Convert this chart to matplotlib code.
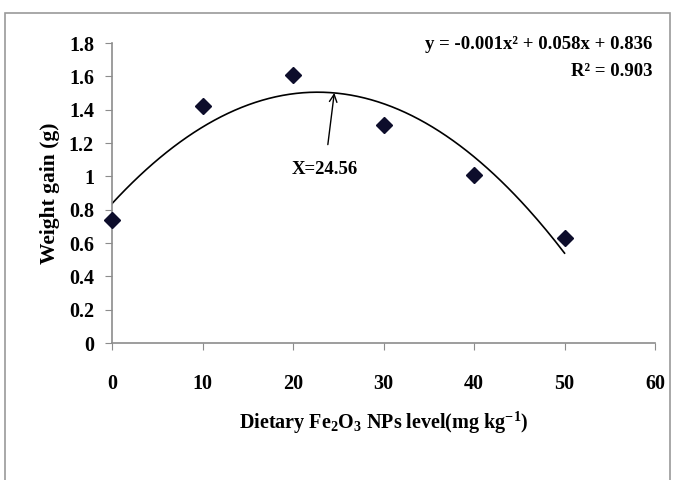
import numpy as np
import matplotlib.pyplot as plt
from matplotlib.patches import Rectangle

plt.rcParams['font.family'] = ['Liberation Serif', 'DejaVu Serif']
plt.rcParams['font.weight'] = 'bold'
plt.rcParams['mathtext.fontset'] = 'custom'
plt.rcParams['mathtext.rm'] = 'Liberation Serif:bold'
plt.rcParams['mathtext.it'] = 'Liberation Serif:bold'
plt.rcParams['mathtext.bf'] = 'Liberation Serif:bold'

# data
fe_level = [0, 10, 20, 30, 40, 50]
weight_gain = [0.74, 1.42, 1.61, 1.31, 1.01, 0.63]
x_ticks = [0, 10, 20, 30, 40, 50, 60]
y_ticks = [0, 0.2, 0.4, 0.6, 0.8, 1, 1.2, 1.4, 1.6, 1.8]
y_tick_labels = ['0', '0.2', '0.4', '0.6', '0.8', '1', '1.2', '1.4', '1.6', '1.8']
equation = 'y = -0.001x² + 0.058x + 0.836'
r_squared = 'R² = 0.903'
optimum_label = 'X=24.56'
optimum_x = 24.56

fig = plt.figure(figsize=(6.76, 4.8), dpi=100)
ax = fig.add_axes([0.1657, 0.2854, 0.8033, 0.625])

# polynomial trend line (Excel style, order 2)
coef = np.polyfit(fe_level, weight_gain, 2)
xs = np.linspace(0, 50, 200)
ax.plot(xs, np.polyval(coef, xs), color='black', lw=1.2, zorder=2)

ax.plot(fe_level, weight_gain, linestyle='none', marker='D', markersize=8.5,
        color='#0d0d2b', zorder=3, clip_on=False)

ax.set_xlim(0, 60)
ax.set_ylim(0, 1.8)
ax.set_xticks(x_ticks)
ax.set_yticks(y_ticks)
ax.set_yticklabels(y_tick_labels)

for side in ['top', 'right']:
    ax.spines[side].set_visible(False)
for side in ['left', 'bottom']:
    ax.spines[side].set_color('#8c8c8c')
    ax.spines[side].set_linewidth(1.2)

ax.tick_params(axis='both', direction='out', length=5, color='#8c8c8c',
               labelsize=14.5)
ax.tick_params(axis='x', pad=17)
ax.tick_params(axis='y', pad=8)

ax.set_xlabel(r'Dietary Fe$_2$O$_3$ NPs level(mg kg$^{-1}$)', fontsize=14.5,
              fontweight='bold', labelpad=12)
ax.set_ylabel('Weight gain (g)', fontsize=15.5, fontweight='bold', labelpad=6)

ax.text(0.995, 1.025, equation, transform=ax.transAxes, ha='right', va='top',
        fontsize=13.5, fontweight='bold')
ax.text(0.995, 0.935, r_squared, transform=ax.transAxes, ha='right', va='top',
        fontsize=13.5, fontweight='bold')

ax.annotate(optimum_label, xy=(optimum_x, np.polyval(coef, optimum_x)),
            xytext=(23.5, 1.04), ha='center', va='center', fontsize=13.5,
            fontweight='bold',
            arrowprops=dict(arrowstyle='->', color='black', lw=1,
                            shrinkA=10, shrinkB=0))

# outer frame of the figure
fig.patches.append(Rectangle((5 / 676, -0.1), 665 / 676, 1.1 - 13 / 480,
                             transform=fig.transFigure, fill=False,
                             edgecolor='#9a9a9a', lw=1.2))

fig.savefig('out.png', dpi=100, facecolor='white')
